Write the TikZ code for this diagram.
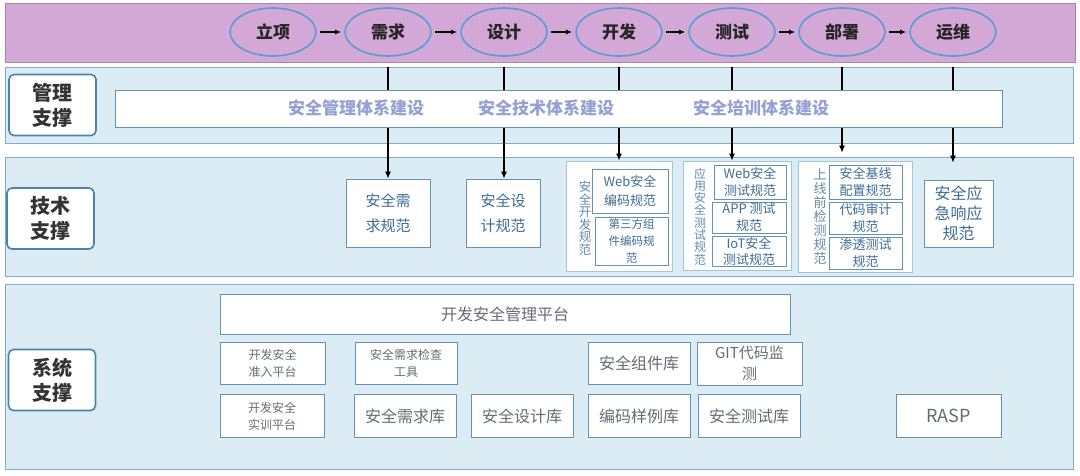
\documentclass[tikz,border=0pt]{standalone}
\usepackage{fontspec}
\setmainfont{Noto Sans CJK SC}
\usepackage{xcolor}
\usetikzlibrary{arrows.meta,positioning,shapes.geometric}

\definecolor{bandpurple}{RGB}{212,168,214}
\definecolor{ellline}{RGB}{91,155,213}
\definecolor{bandblue}{RGB}{219,236,244}
\definecolor{bandline}{RGB}{125,172,200}
\definecolor{labline}{RGB}{72,132,172}
\definecolor{bartext}{RGB}{150,160,212}
\definecolor{spectext}{RGB}{62,108,148}
\definecolor{specline}{RGB}{98,146,182}
\definecolor{systext}{RGB}{100,108,118}

\begin{document}
\begin{tikzpicture}[
  x=1pt,y=-1pt,
  band/.style={draw=bandline,fill=bandblue,line width=0.8pt,inner sep=0pt},
  phase/.style={ellipse,draw=ellline,line width=1.6pt,fill=bandpurple,
    minimum width=86pt,minimum height=48pt,inner sep=0pt,text=black!85,
    font=\fontsize{17}{20}\selectfont\bfseries},
  layer/.style={draw=labline,line width=1.6pt,fill=white,rounded corners=5pt,
    minimum width=87pt,minimum height=61pt,align=center,text=black!80,
    font=\fontsize{20}{25}\selectfont\bfseries},
  bartxt/.style={text=bartext,font=\fontsize{17}{20}\selectfont\bfseries},
  spec/.style={draw=specline,fill=white,line width=0.7pt,align=center,
    text=spectext,inner sep=0pt},
  group/.style={draw=bandline!70,fill=white,line width=0.6pt,inner sep=0pt},
  vtxt/.style={align=center,text=spectext!80,inner sep=0pt,
    font=\fontsize{13}{14}\selectfont},
  tool/.style={draw=specline,fill=white,line width=0.8pt,align=center,
    text=systext,inner sep=0pt,minimum width=104pt,minimum height=43pt,
    font=\fontsize{16}{20}\selectfont},
  small/.style={tool,font=\fontsize{12}{17}\selectfont},
  flow/.style={-{Latex[length=7pt,width=6pt]},line width=1.3pt},
  next/.style={-{Latex[length=6pt,width=5pt]},line width=1.3pt,
    shorten <=3pt,shorten >=3pt}
]
\useasboundingbox (0,0) rectangle (1080,475);

% bands
\node[draw=bandpurple!80!black,fill=bandpurple,line width=0.6pt,inner sep=0pt,
  minimum width=1070pt,minimum height=59pt] (top) at (540,32.5) {};
\node[band,minimum width=1068pt,minimum height=76pt] (mgmt) at (539,105) {};
\node[band,minimum width=1068pt,minimum height=119pt] (tech) at (539,216.5) {};
\node[band,minimum width=1068pt,minimum height=185pt] (sys) at (539,376.5) {};

% phases
\node[phase] (proj) at (273,32) {立项};
\node[phase] (req) at (388,32) {需求};
\node[phase] (design) at (504,32) {设计};
\node[phase] (dev) at (619,32) {开发};
\node[phase] (test) at (732,32) {测试};
\node[phase] (deploy) at (842,32) {部署};
\node[phase] (ops) at (953,32) {运维};
\draw[next] (proj) -- (req);
\draw[next] (req) -- (design);
\draw[next] (design) -- (dev);
\draw[next] (dev) -- (test);
\draw[next] (test) -- (deploy);
\draw[next] (deploy) -- (ops);

% layer labels
\node[layer] (lmgmt) at (52.5,105) {管理\\支撑};
\node[layer] (ltech) at (50.5,218.5) {技术\\支撑};
\node[layer] (lsys) at (52,380) {系统\\支撑};

% technical specs
\node[spec,minimum width=84pt,minimum height=68pt,
  font=\fontsize{15}{25}\selectfont] (reqspec) at (388,213) {安全需\\求规范};
\node[spec,minimum width=74pt,minimum height=68pt,
  font=\fontsize{15}{25}\selectfont] (desspec) at (503,213) {安全设\\计规范};

\node[group,minimum width=106pt,minimum height=110pt] (devgrp) at (619,216) {};
\node[vtxt,font=\fontsize{12.5}{12.5}\selectfont] (devv) at (585,218)
  {安\\全\\开\\发\\规\\范};
\node[spec,minimum width=76pt,minimum height=44pt,
  font=\fontsize{13}{19}\selectfont] (webcode) at (630,191) {Web安全\\编码规范};
\node[spec,minimum width=73pt,minimum height=48pt,
  font=\fontsize{11.5}{17}\selectfont] (thirdcode) at (631.5,241)
  {第三方组\\件编码规\\范};

\node[group,minimum width=108pt,minimum height=109pt] (testgrp) at (737,215.5) {};
\node[vtxt,font=\fontsize{12}{12.3}\selectfont] (testv) at (700,216.5)
  {应\\用\\安\\全\\测\\试\\规\\范};
\node[spec,minimum width=72pt,minimum height=34pt,
  font=\fontsize{13}{17}\selectfont] (webtest) at (750,182) {Web安全\\测试规范};
\node[spec,minimum width=74pt,minimum height=31pt,
  font=\fontsize{13}{17}\selectfont] (apptest) at (749,217.5) {APP 测试\\规范};
\node[spec,minimum width=74pt,minimum height=30pt,
  font=\fontsize{13}{16}\selectfont] (iottest) at (749,251) {IoT安全\\测试规范};

\node[group,minimum width=114pt,minimum height=111pt] (lchgrp) at (855,216.5) {};
\node[vtxt] (lchv) at (820,217) {上\\线\\前\\检\\测\\规\\范};
\node[spec,minimum width=73pt,minimum height=34pt,
  font=\fontsize{13}{17}\selectfont] (baseline) at (865.5,182) {安全基线\\配置规范};
\node[spec,minimum width=73pt,minimum height=32pt,
  font=\fontsize{13}{17}\selectfont] (audit) at (865.5,218) {代码审计\\规范};
\node[spec,minimum width=73pt,minimum height=32pt,
  font=\fontsize{13}{17}\selectfont] (pentest) at (865.5,253) {渗透测试\\规范};

\node[spec,minimum width=69pt,minimum height=67pt,
  font=\fontsize{16}{20}\selectfont] (emerg) at (958.5,213.5)
  {安全应\\急响应\\规范};

% phase links
\draw[flow] (req |- mgmt.north) -- (reqspec);
\draw[flow] (design |- mgmt.north) -- (design |- desspec.north);
\draw[flow] (dev |- mgmt.north) -- (devgrp);
\draw[flow] (test |- mgmt.north) -- (test |- testgrp.north);
\draw[flow,shorten >=8pt] (deploy |- mgmt.north) -- (deploy |- lchgrp.north);
\draw[flow,shorten >=17pt] (ops |- mgmt.north) -- (ops |- emerg.north);

% management bar
\node[draw=specline,fill=white,line width=0.7pt,inner sep=0pt,
  minimum width=887pt,minimum height=37pt] (bar) at (558.5,108.5) {};
\node[bartxt] (msys) at (356,108) {安全管理体系建设};
\node[bartxt] (tsys) at (546,108) {安全技术体系建设};
\node[bartxt] (esys) at (761,108) {安全培训体系建设};

% system tools
\node[tool,minimum width=570pt,minimum height=40pt] (platform) at (505,314)
  {开发安全管理平台};
\node[small,minimum width=105pt,minimum height=42pt] (admit) at (272.5,363)
  {开发安全\\准入平台};
\node[small,minimum width=102pt,minimum height=42pt] (reqchk) at (406,363)
  {安全需求检查\\工具};
\node[tool,minimum width=102pt,minimum height=42pt] (comp) at (639,363)
  {安全组件库};
\node[tool,minimum width=105pt,minimum height=43pt,
  font=\fontsize{15}{21}\selectfont] (git) at (749.5,363.5) {GIT代码监\\测};
\node[small] (train) at (272,416) {开发安全\\实训平台};
\node[tool,minimum width=102pt] (reqlib) at (405,416) {安全需求库};
\node[tool,minimum width=102pt] (deslib) at (522,416) {安全设计库};
\node[tool,minimum width=102pt] (codelib) at (639,416) {编码样例库};
\node[tool,minimum width=102pt] (testlib) at (749,416) {安全测试库};
\node[tool,minimum width=105pt,font=\fontsize{18}{20}\selectfont] (rasp)
  at (948.5,416) {RASP};
\end{tikzpicture}
\end{document}
